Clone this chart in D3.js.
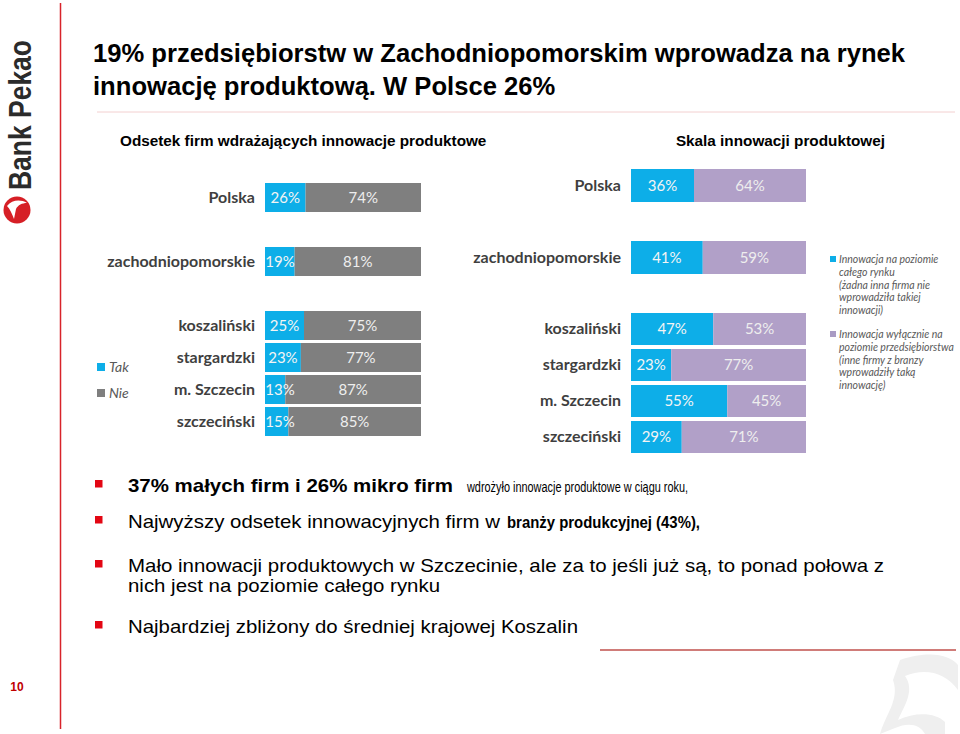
<!DOCTYPE html>
<html><head><meta charset="utf-8">
<script src="https://cdn.jsdelivr.net/npm/d3@7"></script>
<style>body{margin:0;background:#fff}svg{display:block}</style>
</head><body>
<svg id="c" width="960" height="734"></svg>
<script>
const topCategories = ["Polska", "zachodniopomorskie"];
const subCategories = ["koszaliński", "stargardzki", "m. Szczecin", "szczeciński"];
const leftTak = [26, 19, 25, 23, 13, 15];
const leftNie = [74, 81, 75, 77, 87, 85];
const rightMarket = [36, 41, 47, 23, 55, 29];
const rightFirm = [64, 59, 53, 77, 45, 71];
const leftLegend = ["Tak", "Nie"];
const rightLegend = [
  ["Innowacja na poziomie", "całego rynku", "(żadna inna firma nie", "wprowadziła takiej", "innowacji)"],
  ["Innowacja wyłącznie na", "poziomie przedsiębiorstwa", "(inne firmy z branzy", "wprowadziły taką", "innowację)"]
];
const titleLines = ["19% przedsiębiorstw w Zachodniopomorskim wprowadza na rynek", "innowację produktową. W Polsce 26%"];
// [text, bold, start x, end x, size]
const bullets = [
  [["37% małych firm i 26% mikro firm", true, 128, 453, 19], ["wdrożyło innowacje produktowe w ciągu roku,", false, 467, 688, 14]],
  [["Najwyższy odsetek innowacyjnych firm w", false, 128, 500, 19], ["branży produkcyjnej (43%),", true, 507, 700, 16]],
  [["Mało innowacji produktowych w Szczecinie, ale za to jeśli już są, to ponad połowa z", false, 128, 884, 19]],
  [["nich jest na poziomie całego rynku", false, 128, 440, 19]],
  [["Najbardziej zbliżony do średniej krajowej Koszalin", false, 128, 578, 19]]
];

const BLUE = "#0daee8", GREY = "#7f7f7f", PURPLE = "#b1a0c8";
const svg = d3.select("#c");
const cats = topCategories.concat(subCategories);

// frame lines
svg.append("line").attr("x1", 60.5).attr("x2", 60.5).attr("y1", 3).attr("y2", 729).attr("stroke", "#d8232a").attr("stroke-width", 1.5);
svg.append("line").attr("x1", 97).attr("x2", 955).attr("y1", 112).attr("y2", 112).attr("stroke", "#f3d0d0").attr("stroke-width", 1);
svg.append("line").attr("x1", 600).attr("x2", 956).attr("y1", 650).attr("y2", 650).attr("stroke", "#c0504d").attr("stroke-width", 1.5);

// watermark
svg.append("path")
  .attr("d", "M900,660 C930,650 950,655 958,665 L958,690 C945,672 925,668 905,676 C915,690 905,705 898,720 C915,712 935,712 945,722 L945,734 L925,734 C920,724 908,722 895,728 L880,734 C885,715 900,700 893,680 Z")
  .attr("fill", "#efefef");

// logo
svg.append("text").attr("transform", "translate(31,190) rotate(-90)")
  .attr("font-family", "Liberation Sans, Arial, sans-serif").attr("font-weight", "bold").attr("font-size", 31)
  .attr("fill", "#2b2b2b").attr("textLength", 150).attr("lengthAdjust", "spacingAndGlyphs").text("Bank Pekao");
svg.append("circle").attr("cx", 17).attr("cy", 210).attr("r", 13.5).attr("fill", "#d61f26");
svg.append("path").attr("d", "M7,206 C12,200 20,199 27,203 C22,203 18,205 16,209 L14,219 C12,214 10,209 7,206 Z").attr("fill", "#fff");

// page number
svg.append("text").attr("x", 17).attr("y", 691).attr("text-anchor", "middle")
  .attr("font-family", "Liberation Sans, Arial, sans-serif").attr("font-weight", "bold").attr("font-size", 12)
  .attr("fill", "#c00000").text("10");

// title
svg.selectAll("text.title").data(titleLines).join("text").attr("class", "title")
  .attr("x", 93).attr("y", (d, i) => 62 + i * 33)
  .attr("font-family", "Liberation Sans, Arial, sans-serif").attr("font-weight", "bold").attr("font-size", 25.6)
  .attr("fill", "#000").text(d => d);

// subtitles
svg.append("text").attr("x", 120).attr("y", 146).attr("font-family", "Liberation Sans, Arial, sans-serif")
  .attr("font-weight", "bold").attr("font-size", 15.3).attr("fill", "#000").text("Odsetek firm wdrażających innowacje produktowe");
svg.append("text").attr("x", 885).attr("y", 146).attr("text-anchor", "end").attr("font-family", "Liberation Sans, Arial, sans-serif")
  .attr("font-weight", "bold").attr("font-size", 15.3).attr("fill", "#000").text("Skala innowacji produktowej");

function chart(cfg) {
  const x = d3.scaleLinear().domain([0, 100]).range(cfg.xr);
  const yTop = d3.scaleBand().domain(topCategories).range(cfg.topR).paddingInner(cfg.topPad).paddingOuter(0);
  const ySub = d3.scaleBand().domain(subCategories).range(cfg.subR).paddingInner(cfg.subPad).paddingOuter(0);
  const y = c => topCategories.includes(c) ? yTop(c) : ySub(c);
  const bw = c => topCategories.includes(c) ? yTop.bandwidth() : ySub.bandwidth();
  const rows = cats.map((c, i) => ({ c, a: cfg.a[i], b: cfg.b[i] }));
  const g = svg.append("g");
  g.selectAll("rect.a").data(rows).join("rect").attr("x", x(0)).attr("y", d => y(d.c))
    .attr("width", d => x(d.a) - x(0)).attr("height", d => bw(d.c)).attr("fill", BLUE);
  g.selectAll("rect.b").data(rows).join("rect").attr("x", d => x(d.a)).attr("y", d => y(d.c))
    .attr("width", d => x(d.a + d.b) - x(d.a)).attr("height", d => bw(d.c)).attr("fill", cfg.color);
  const font = "Lato, 'Open Sans', sans-serif";
  g.selectAll("text.a").data(rows).join("text")
    .attr("x", d => Math.max((x(0) + x(d.a)) / 2, x(0) + 15)).attr("y", d => y(d.c) + bw(d.c) / 2 + 5)
    .attr("text-anchor", "middle").attr("font-family", font).attr("font-size", 15).attr("fill", "#f4f4f4")
    .text(d => d.a + "%");
  g.selectAll("text.b").data(rows).join("text")
    .attr("x", d => (x(d.a) + x(100)) / 2).attr("y", d => y(d.c) + bw(d.c) / 2 + 5)
    .attr("text-anchor", "middle").attr("font-family", font).attr("font-size", 15).attr("fill", "#eeeeee")
    .text(d => d.b + "%");
  g.selectAll("text.c").data(rows).join("text")
    .attr("x", cfg.xr[0] - 10).attr("y", d => y(d.c) + bw(d.c) / 2 + 5)
    .attr("text-anchor", "end").attr("font-family", font).attr("font-weight", "bold").attr("font-size", 16)
    .attr("fill", "#3f3f3f").text(d => d.c);
}

chart({ xr: [265, 421], topR: [183, 276], topPad: 35 / 64, subR: [311, 436], subPad: 3 / 32, a: leftTak, b: leftNie, color: GREY });
chart({ xr: [631, 806], topR: [169, 274], topPad: 39 / 72, subR: [313, 453], subPad: 4 / 36, a: rightMarket, b: rightFirm, color: PURPLE });

// left legend
const lcol = [BLUE, GREY];
leftLegend.forEach((t, i) => {
  svg.append("rect").attr("x", 97).attr("y", 363 + i * 26).attr("width", 8).attr("height", 8).attr("fill", lcol[i]);
  svg.append("text").attr("x", 109).attr("y", 372 + i * 26).attr("font-family", "Lato, sans-serif")
    .attr("font-style", "italic").attr("font-size", 14).attr("fill", "#595959").text(t);
});

// right legend
const rcol = [BLUE, "#a99bc4"];
rightLegend.forEach((lines, i) => {
  const y0 = 263 + i * 75;
  svg.append("rect").attr("x", 830).attr("y", y0 - 7).attr("width", 6).attr("height", 6).attr("fill", rcol[i]);
  svg.selectAll(null).data(lines).join("text").attr("x", 839).attr("y", (d, j) => y0 + j * 12.8)
    .attr("font-family", "Lato, sans-serif").attr("font-style", "italic").attr("font-size", 10.5)
    .attr("fill", "#595959").text(d => d);
});

// bullets
const bY = [492, 528, 572, 592, 633];
const markerRows = [0, 1, 2, 4];
markerRows.forEach(i => {
  svg.append("rect").attr("x", 95).attr("y", bY[i] - 12).attr("width", 7.5).attr("height", 7.5).attr("fill", "#e30613");
});
bullets.forEach((parts, i) => {
  parts.forEach(p => {
    svg.append("text").attr("x", p[2]).attr("y", bY[i]).attr("font-family", "Liberation Sans, Arial, sans-serif")
      .attr("font-size", p[4]).attr("fill", "#000").attr("font-weight", p[1] ? "bold" : "normal")
      .attr("textLength", p[3] - p[2]).attr("lengthAdjust", "spacingAndGlyphs").text(p[0]);
  });
});
</script>
</body></html>
